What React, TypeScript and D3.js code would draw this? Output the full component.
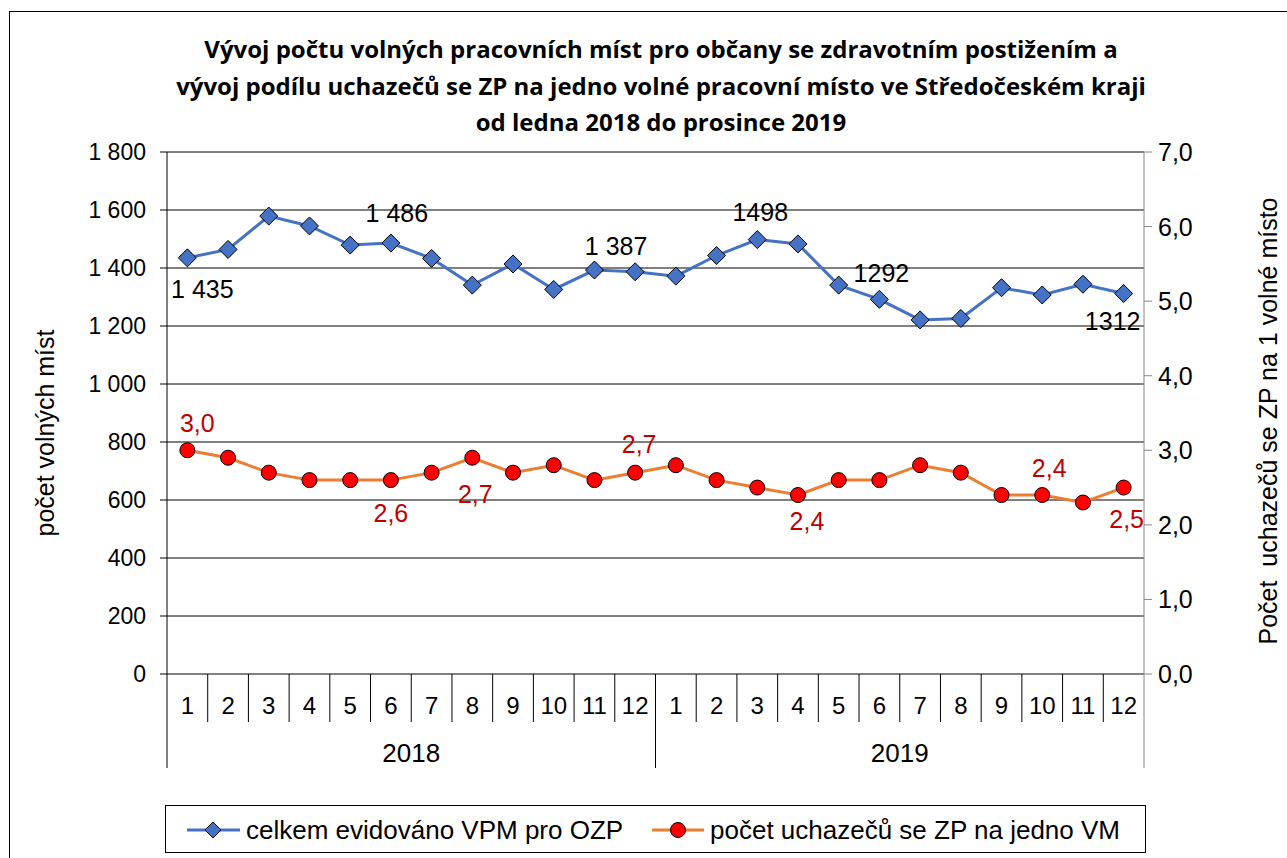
import * as d3 from 'd3';

const months = ['1', '2', '3', '4', '5', '6', '7', '8', '9', '10', '11', '12',
  '1', '2', '3', '4', '5', '6', '7', '8', '9', '10', '11', '12'];
const years = ['2018', '2019'];
const vpm = [1435, 1464, 1579, 1545, 1479, 1486, 1433, 1341, 1414, 1326, 1393, 1387,
  1372, 1443, 1498, 1483, 1341, 1292, 1221, 1226, 1332, 1307, 1344, 1312];
const ratio = [3.0, 2.9, 2.7, 2.6, 2.6, 2.6, 2.7, 2.9, 2.7, 2.8, 2.6, 2.7,
  2.8, 2.6, 2.5, 2.4, 2.6, 2.6, 2.8, 2.7, 2.4, 2.4, 2.3, 2.5];
const leftTicks = [0, 200, 400, 600, 800, 1000, 1200, 1400, 1600, 1800];
const rightTicks = [0, 1, 2, 3, 4, 5, 6, 7];

const titleLines = [
  'Vývoj počtu volných pracovních míst pro občany se zdravotním postižením a',
  'vývoj podílu uchazečů se ZP na jedno volné pracovní místo ve Středočeském kraji',
  'od ledna 2018 do prosince 2019',
];
const seriesNames = ['celkem evidováno VPM pro OZP', 'počet uchazečů se ZP na jedno VM'];

// which points carry a data label
const vpmLabels = [
  { i: 0, text: '1 435' }, { i: 5, text: '1 486' }, { i: 11, text: '1 387' },
  { i: 14, text: '1498' }, { i: 17, text: '1292' }, { i: 23, text: '1312' },
];
const ratioLabels = [
  { i: 0, text: '3,0' }, { i: 5, text: '2,6' }, { i: 7, text: '2,7' }, { i: 11, text: '2,7' },
  { i: 15, text: '2,4' }, { i: 21, text: '2,4' }, { i: 23, text: '2,5' },
];
// label offsets from the point (dx, baseline dy)
const vpmOffsets = [[15, 40], [6, -21], [-19, -17], [3, -19], [2, -17], [-11, 36]];
const ratioOffsets = [[10, -18], [0, 42], [3, 45], [4, -20], [9, 35], [7, -18], [3, 40]];

const W = 1287;
const H = 858;
const font = '"Liberation Sans", Arial, sans-serif';

export default function App() {
  const left = 167, right = 1144, top = 152, bottom = 674;

  const x = d3.scaleBand<number>()
    .domain(d3.range(months.length))
    .range([left, right]);
  const cx = (i: number) => (x(i) ?? 0) + x.bandwidth() / 2;
  const yL = d3.scaleLinear().domain([0, 1800]).range([bottom, top]);
  const yR = d3.scaleLinear().domain([0, 7]).range([bottom, top]);

  const lineL = d3.line<number>().x((_, i) => cx(i)).y(d => yL(d));
  const lineR = d3.line<number>().x((_, i) => cx(i)).y(d => yR(d));

  const fmtL = (v: number) => d3.format(',')(v).replace(',', ' ');
  const fmtR = (v: number) => v.toFixed(1).replace('.', ',');

  const diamond = (px: number, py: number, r: number) =>
    `M${px},${py - r}L${px + r},${py}L${px},${py + r}L${px - r},${py}Z`;

  return (
    <svg width={W} height={H} style={{ position: 'absolute', left: 0, top: 0, display: 'block', background: '#fff' }}
      fontFamily={font}>
      <rect x={9.5} y={11.5} width={1290} height={860} fill="#fff" stroke="#000" strokeWidth={1} />

      {titleLines.map((t, k) => (
        <text key={k} x={661} y={58 + k * 36.5} textAnchor="middle" fontFamily='"Open Sans", sans-serif'
          fontWeight="bold" fontSize={24} fill="#000">{t}</text>
      ))}

      {/* gridlines */}
      {leftTicks.map(v => (
        <line key={v} x1={left} x2={right} y1={yL(v)} y2={yL(v)} stroke="#000" strokeWidth={1} />
      ))}
      {/* left axis */}
      <line x1={left} x2={left} y1={top} y2={bottom} stroke="#000" />
      {leftTicks.map(v => (
        <g key={v}>
          <line x1={left - 7} x2={left} y1={yL(v)} y2={yL(v)} stroke="#000" />
          <text x={146} y={yL(v) + 8} textAnchor="end" fontSize={23}>{fmtL(v)}</text>
        </g>
      ))}
      {/* right axis */}
      <line x1={right} x2={right} y1={top} y2={bottom + 94} stroke="#888" />
      {rightTicks.map(v => (
        <g key={v}>
          <line x1={right} x2={right + 8} y1={yR(v)} y2={yR(v)} stroke="#888" />
          <text x={1158} y={yR(v) + 9} fontSize={25}>{fmtR(v)}</text>
        </g>
      ))}

      {/* category axis */}
      {months.map((m, i) => (
        <g key={i}>
          {i > 0 && i % 12 !== 0 && (
            <line x1={x(i)} x2={x(i)} y1={bottom} y2={bottom + 48} stroke="#000" />
          )}
          <text x={cx(i)} y={bottom + 40} textAnchor="middle" fontSize={24}>{m}</text>
        </g>
      ))}
      {[0, 12].map(i => (
        <line key={i} x1={x(i)} x2={x(i)} y1={bottom} y2={bottom + 94} stroke="#000" />
      ))}
      {years.map((yr, k) => (
        <text key={yr} x={((x(k * 12) ?? 0) + (k === 0 ? x(12) ?? 0 : right)) / 2} y={bottom + 88}
          textAnchor="middle" fontSize={26}>{yr}</text>
      ))}

      {/* axis titles */}
      <text transform="translate(54,433) rotate(-90)" textAnchor="middle" fontSize={25}>počet volných míst</text>
      <text transform="translate(1277,421) rotate(-90)" textAnchor="middle" fontSize={25}
        style={{ whiteSpace: 'pre' }}>{'Počet  uchazečů se ZP na 1 volné místo'}</text>

      {/* series */}
      <path d={lineL(vpm) ?? ''} fill="none" stroke="#4472C4" strokeWidth={3} />
      {vpm.map((v, i) => (
        <path key={i} d={diamond(cx(i), yL(v), 9)} fill="#4472C4" stroke="#000" strokeWidth={1} />
      ))}
      <path d={lineR(ratio) ?? ''} fill="none" stroke="#ED7D31" strokeWidth={3} />
      {ratio.map((v, i) => (
        <circle key={i} cx={cx(i)} cy={yR(v)} r={7.5} fill="#FF0000" stroke="#000" strokeWidth={1} />
      ))}

      {/* data labels */}
      {vpmLabels.map((l, k) => (
        <text key={k} x={cx(l.i) + vpmOffsets[k][0]} y={yL(vpm[l.i]) + vpmOffsets[k][1]}
          textAnchor="middle" fontSize={25} fill="#000">{l.text}</text>
      ))}
      {ratioLabels.map((l, k) => (
        <text key={k} x={cx(l.i) + ratioOffsets[k][0]} y={yR(ratio[l.i]) + ratioOffsets[k][1]}
          textAnchor="middle" fontSize={25} fill="#C00000">{l.text}</text>
      ))}

      {/* legend */}
      <rect x={165.5} y={805.5} width={980} height={47} fill="#fff" stroke="#000" />
      <line x1={187} x2={240} y1={830} y2={830} stroke="#4472C4" strokeWidth={3} />
      <path d={diamond(213, 830, 8)} fill="#4472C4" stroke="#000" />
      <text x={246} y={839} fontSize={26}>{seriesNames[0]}</text>
      <line x1={652} x2={704} y1={830} y2={830} stroke="#ED7D31" strokeWidth={3} />
      <circle cx={678} cy={830} r={7.5} fill="#FF0000" stroke="#000" />
      <text x={710} y={839} fontSize={26}>{seriesNames[1]}</text>
    </svg>
  );
}
